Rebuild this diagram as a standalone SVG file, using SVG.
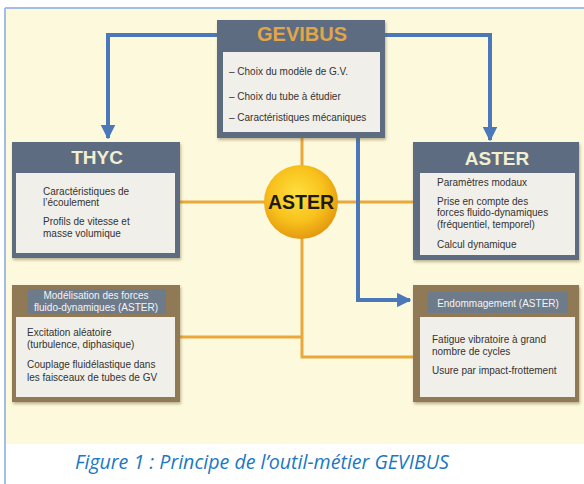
<svg xmlns="http://www.w3.org/2000/svg" width="584" height="484" viewBox="0 0 584 484">
<defs>
<radialGradient id="sun" cx="45%" cy="40%" r="60%">
<stop offset="0" stop-color="#ffe040"/>
<stop offset="0.6" stop-color="#f8c21c"/>
<stop offset="1" stop-color="#e49a10"/>
</radialGradient>
<marker id="ah" viewBox="0 0 10 10" refX="9" refY="5" markerWidth="3.6" markerHeight="3.6" orient="auto" markerUnits="strokeWidth">
<path d="M0,0 L10,5 L0,10 z" fill="#4a78b8"/>
</marker>
<filter id="sh" x="-10%" y="-10%" width="125%" height="125%">
<feDropShadow dx="1" dy="2" stdDeviation="1.5" flood-color="#6b5a30" flood-opacity="0.45"/>
</filter>
</defs>
<style>
.slate{fill:#5d6c80}
.brown{fill:#8f7a54}
.hdr{fill:#6e7b8b}
.panel{fill:#f1efe9}
.ttl{font-family:"Liberation Sans",Arial,sans-serif;font-weight:bold;font-size:19px;fill:#f2eed2;text-anchor:middle}
.gttl{font-family:"Liberation Sans",Arial,sans-serif;font-weight:bold;font-size:20px;fill:#e2a548;text-anchor:middle}
.sm{font-family:"Liberation Sans",Arial,sans-serif;font-size:10px;fill:#333}
.wh{font-family:"Liberation Sans",Arial,sans-serif;font-size:10px;fill:#f4f4f4;text-anchor:middle}
.blue{fill:none;stroke:#4a78b8;stroke-width:4}
.orange{fill:none;stroke:#eaa83a;stroke-width:3}
</style>
<rect x="0" y="0" width="584" height="484" fill="#ffffff"/>
<rect x="6" y="9" width="578" height="435" fill="#fdf9dc"/>
<line x1="5" y1="8" x2="584" y2="8" stroke="#a4bde6" stroke-width="2"/>
<line x1="5" y1="8" x2="5" y2="484" stroke="#a4bde6" stroke-width="2"/>

<g id="connectors">
<polyline class="orange" points="180,202 413,202"/>
<polyline class="orange" points="302,138 302,239"/>
<polyline class="orange" points="302,239 302,357 413,357"/>
<polyline class="orange" points="180,337 302,337"/>
<polyline class="blue" points="217,35 108,35 108,138" marker-end="url(#ah)"/>
<polyline class="blue" points="385,35 490,35 490,140" marker-end="url(#ah)"/>
<polyline class="blue" points="358,138 358,300 410,300" marker-end="url(#ah)"/>
</g>

<g id="gevibus">
<rect class="slate" x="217" y="20" width="168" height="118" filter="url(#sh)"/>
<rect class="panel" x="223" y="52" width="157" height="80"/>
<text class="gttl" x="302" y="41">GEVIBUS</text>
<text class="sm" x="229" y="75">– Choix du modèle de G.V.</text>
<text class="sm" x="229" y="100">– Choix du tube à étudier</text>
<text class="sm" x="229" y="121">– Caractéristiques mécaniques</text>
</g>

<g id="thyc">
<rect class="slate" x="12" y="142" width="168" height="116" filter="url(#sh)"/>
<rect class="panel" x="16" y="173" width="159" height="80"/>
<text class="ttl" x="97" y="164">THYC</text>
<text class="sm" x="43" y="195">Caractéristiques de</text>
<text class="sm" x="43" y="206">l’écoulement</text>
<text class="sm" x="43" y="225">Profils de vitesse et</text>
<text class="sm" x="43" y="237">masse volumique</text>
</g>

<g id="aster-box">
<rect class="slate" x="413" y="142" width="166" height="118" filter="url(#sh)"/>
<rect class="panel" x="420" y="173" width="155" height="82"/>
<text class="ttl" x="497" y="165">ASTER</text>
<text class="sm" x="437" y="186">Paramètres modaux</text>
<text class="sm" x="437" y="205">Prise en compte des</text>
<text class="sm" x="437" y="216">forces fluido-dynamiques</text>
<text class="sm" x="437" y="228">(fréquentiel, temporel)</text>
<text class="sm" x="437" y="248">Calcul dynamique</text>
</g>

<g id="aster-circle">
<circle cx="301" cy="202" r="37" fill="url(#sun)"/>
<text x="301" y="209" text-anchor="middle" font-family="'Liberation Sans',Arial,sans-serif" font-weight="bold" font-size="19.5" fill="#1e1a10">ASTER</text>
</g>

<g id="modelisation">
<rect class="brown" x="12" y="285" width="168" height="117" filter="url(#sh)"/>
<rect class="hdr" x="28" y="289" width="138" height="25"/>
<rect class="panel" x="16" y="317" width="159" height="80"/>
<text class="wh" x="96" y="299">Modélisation des forces</text>
<text class="wh" x="96" y="311">fluido-dynamiques (ASTER)</text>
<text class="sm" x="27" y="336">Excitation aléatoire</text>
<text class="sm" x="27" y="348">(turbulence, diphasique)</text>
<text class="sm" x="27" y="368">Couplage fluidélastique dans</text>
<text class="sm" x="27" y="381">les faisceaux de tubes de GV</text>
</g>

<g id="endommagement">
<rect class="brown" x="413" y="285" width="166" height="117" filter="url(#sh)"/>
<rect class="hdr" x="428" y="292" width="140" height="21"/>
<rect class="panel" x="420" y="317" width="155" height="80"/>
<text class="wh" x="498" y="307">Endommagement  (ASTER)</text>
<text class="sm" x="432" y="343">Fatigue vibratoire à grand</text>
<text class="sm" x="432" y="355">nombre de cycles</text>
<text class="sm" x="432" y="374">Usure par impact-frottement</text>
</g>

<text x="262" y="469" text-anchor="middle" font-family="'Open Sans','Noto Sans',sans-serif" font-style="italic" font-size="19.6" fill="#1a78c2">Figure 1 : Principe de l’outil-métier GEVIBUS</text>
</svg>
